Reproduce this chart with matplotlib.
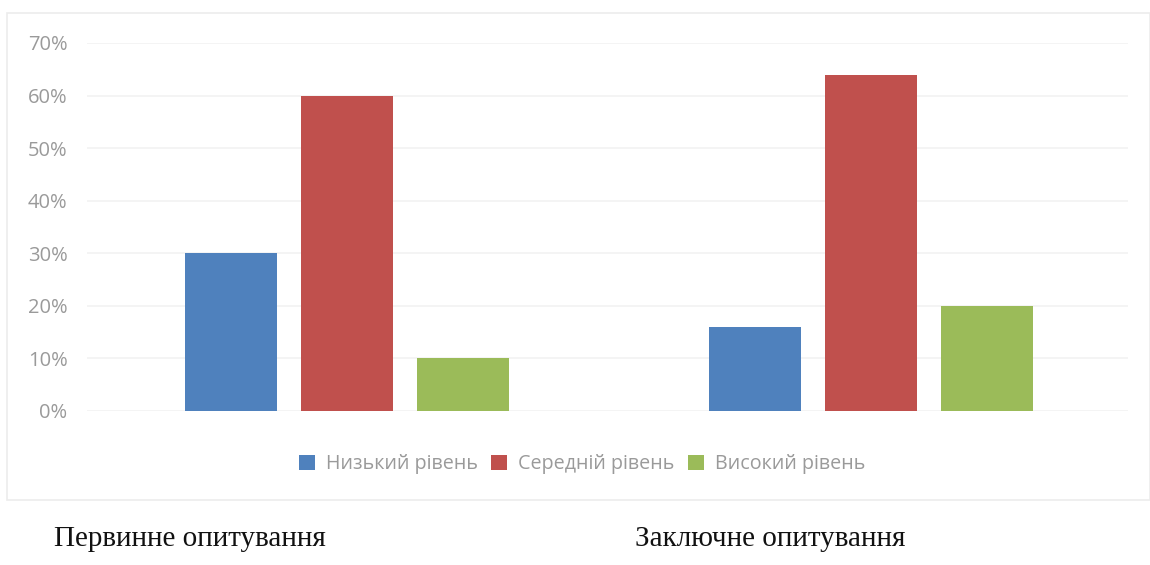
import matplotlib
matplotlib.use("Agg")
import matplotlib.pyplot as plt
from matplotlib.patches import Rectangle
import numpy as np

# Survey results: share of respondents per level, two survey rounds
surveys = ["Первинне опитування", "Заключне опитування"]
levels = ["Низький рівень", "Середній рівень", "Високий рівень"]
low = [0.30, 0.16]
medium = [0.60, 0.64]
high = [0.10, 0.20]
colors = ["#4f81bd", "#c0504d", "#9bbb59"]
yticks = [0.0, 0.1, 0.2, 0.3, 0.4, 0.5, 0.6, 0.7]
ytick_labels = ["0%", "10%", "20%", "30%", "40%", "50%", "60%", "70%"]

W, H = 1150, 565
fig = plt.figure(figsize=(W / 100, H / 100), dpi=100)
fig.patch.set_facecolor("white")

# light frame around the chart area
fig.patches.append(Rectangle((7 / W, 1 - 500 / H), (1150 - 7) / W, (500 - 13) / H,
                             transform=fig.transFigure, fill=False,
                             edgecolor="#ececec", linewidth=1.2))

ax = fig.add_axes([87 / W, 1 - 411 / H, (1128 - 87) / W, (411 - 43) / H])
x = np.arange(len(surveys))
width = 0.1756
offset = 0.2214
for i, (vals, name) in enumerate(zip([low, medium, high], levels)):
    ax.bar(x + (i - 1) * offset, vals, width, color=colors[i], label=name, zorder=3)

ax.set_xlim(-0.496, 1.49)
ax.set_ylim(0, 0.7)
ax.set_yticks(yticks)
ax.set_yticklabels(ytick_labels, fontsize=14.5, color="#9a9a9a", fontfamily="Open Sans")
ax.set_xticks([])
ax.grid(axis="y", color="#f2f2f2", linewidth=1.2, zorder=0)
ax.tick_params(axis="y", length=0, pad=14)
for s in ax.spines.values():
    s.set_visible(False)
ax.set_facecolor("none")

leg = fig.legend(loc="center", bbox_to_anchor=(582 / W, 1 - 464 / H), ncol=3,
                 frameon=False, handlelength=0.8, handleheight=0.8,
                 handletextpad=0.55, columnspacing=0.7,
                 prop={"family": "Open Sans", "size": 14.2})
for t in leg.get_texts():
    t.set_color("#9a9a9a")

# survey names under the chart
for name, cx in zip(surveys, [190, 770]):
    fig.text(cx / W, 1 - 539 / H, name, ha="center", va="center",
             fontsize=21, fontfamily="Liberation Serif", color="#111111")

fig.savefig("out.png", dpi=100, facecolor="white")
